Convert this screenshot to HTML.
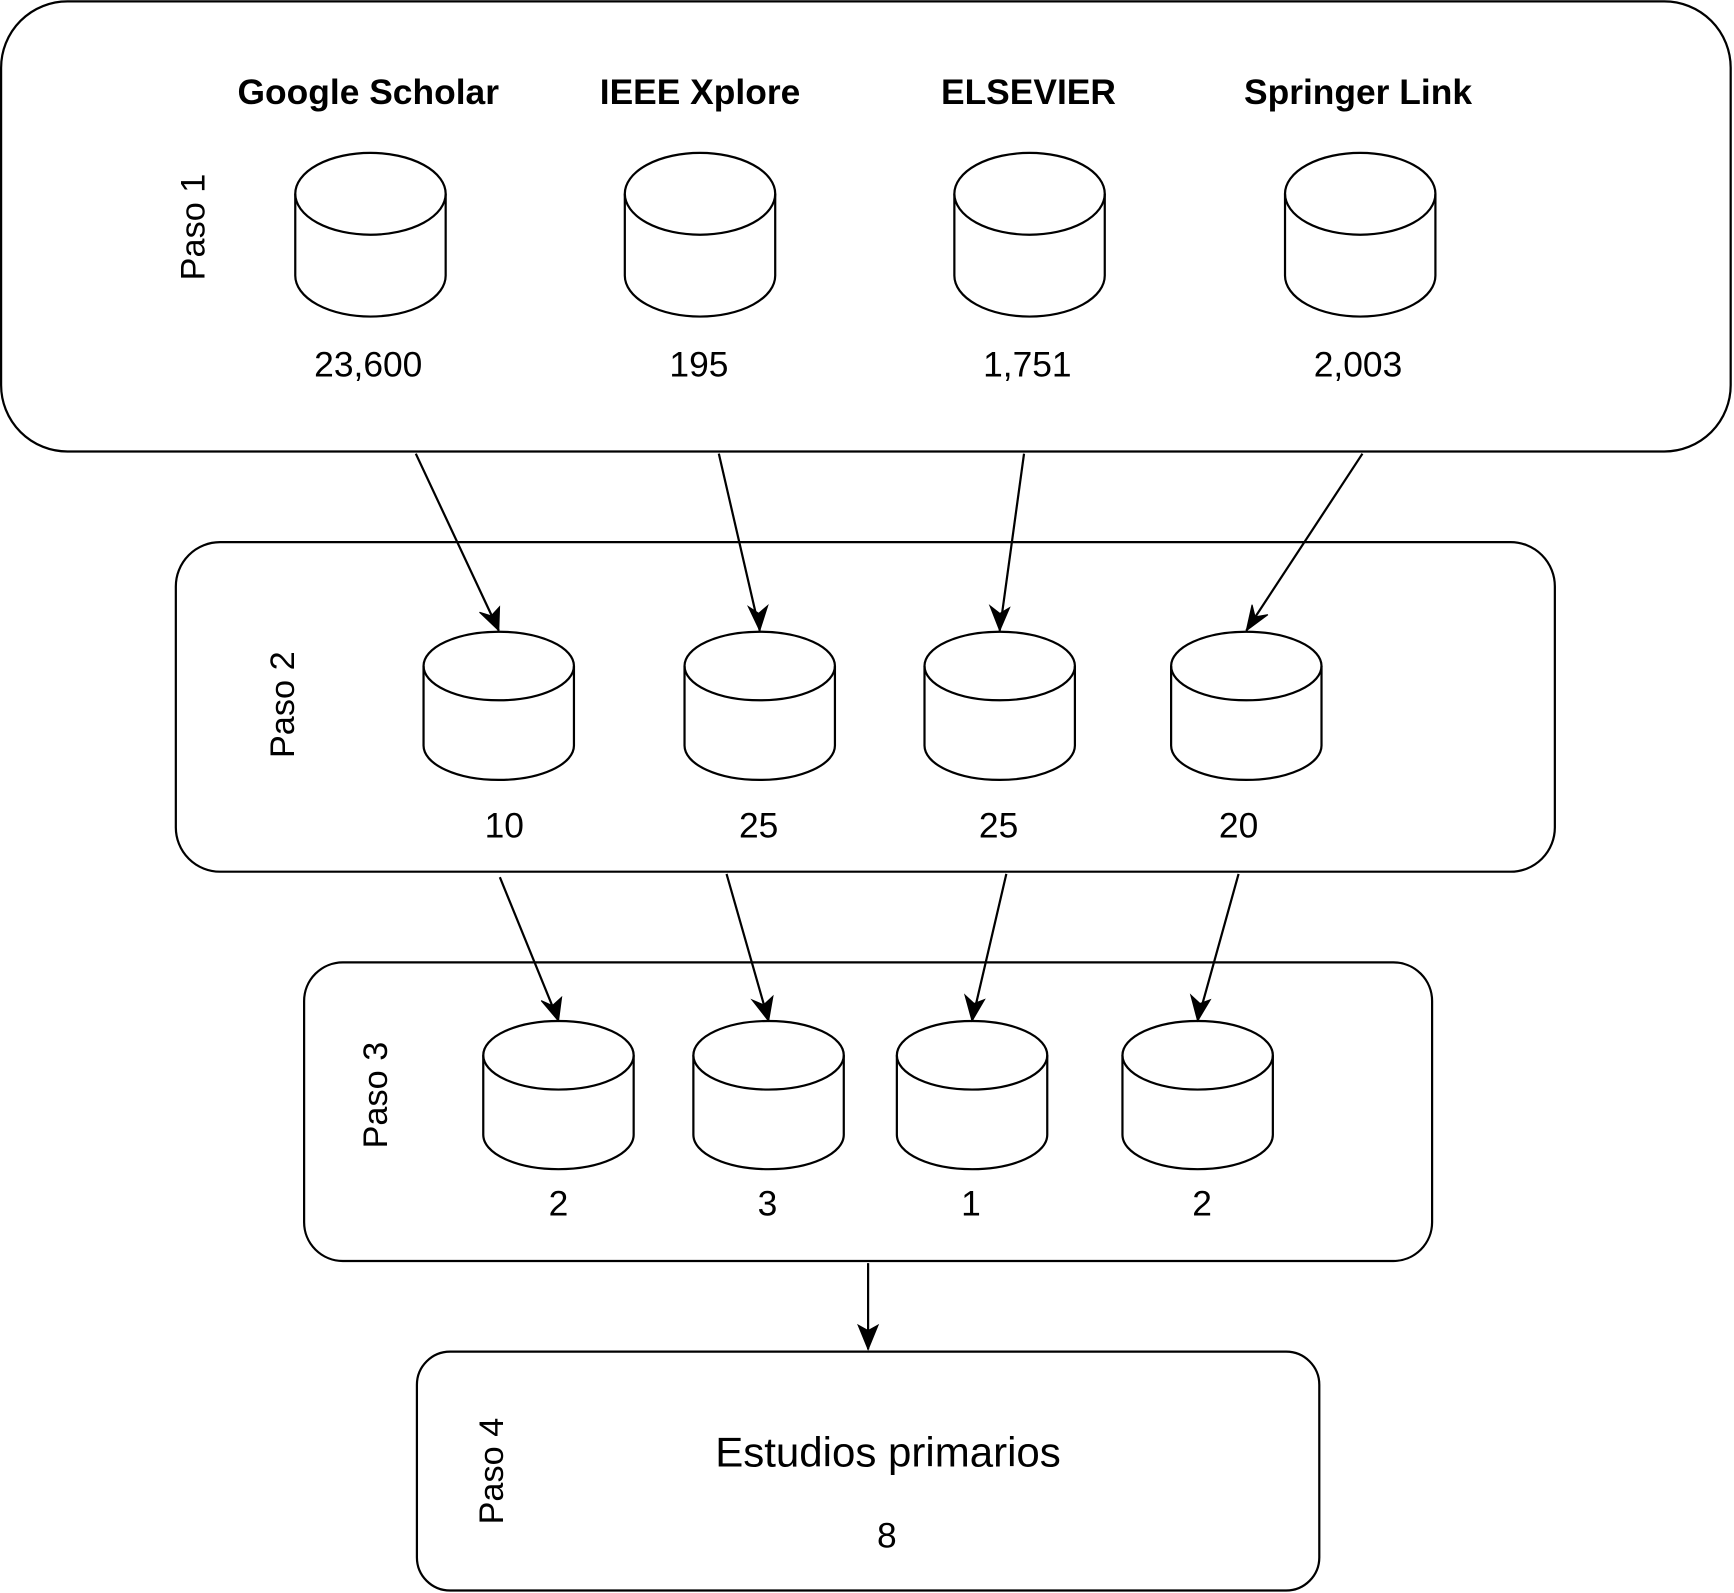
<!DOCTYPE html>
<html><head><meta charset="utf-8"><style>html,body{margin:0;padding:0;background:#fff}svg{display:block}</style></head>
<body>
<svg width="1734" height="1593" viewBox="0 0 1568 1440" xmlns="http://www.w3.org/2000/svg" font-family="Liberation Sans, Arial, sans-serif">
<defs>
<g id="cyl">
<path d="M-68,-37 A68,37 0 0 1 68,-37 L68,37 A68,37 0 0 1 -68,37 Z" fill="#fff" stroke="#000" stroke-width="2"/>
<path d="M-68,-37 A68,37 0 0 0 68,-37" fill="none" stroke="#000" stroke-width="2"/>
</g>
<g id="cyls">
<path d="M-68,-36 A68,31 0 0 1 68,-36 L68,36 A68,31 0 0 1 -68,36 Z" fill="#fff" stroke="#000" stroke-width="2"/>
<path d="M-68,-36 A68,31 0 0 0 68,-36" fill="none" stroke="#000" stroke-width="2"/>
</g>
</defs>
<g fill="none" stroke="#000" stroke-width="2">
<rect x="1" y="1" width="1564" height="407" rx="60"/>
<rect x="159" y="490" width="1247" height="298" rx="40"/>
<rect x="275" y="870" width="1020" height="270" rx="35"/>
<rect x="377" y="1222" width="816" height="216" rx="30"/>
</g>
<g font-size="32" font-weight="bold" text-anchor="middle">
<text x="333" y="94">Google Scholar</text>
<text x="633" y="94">IEEE Xplore</text>
<text x="930" y="94">ELSEVIER</text>
<text x="1228" y="94">Springer Link</text>
</g>
<use href="#cyl" x="335" y="212"/>
<use href="#cyl" x="633" y="212"/>
<use href="#cyl" x="931" y="212"/>
<use href="#cyl" x="1230" y="212"/>
<use href="#cyls" x="451" y="638"/>
<use href="#cyls" x="687" y="638"/>
<use href="#cyls" x="904" y="638"/>
<use href="#cyls" x="1127" y="638"/>
<use href="#cyls" x="505" y="990"/>
<use href="#cyls" x="695" y="990"/>
<use href="#cyls" x="879" y="990"/>
<use href="#cyls" x="1083" y="990"/>
<g font-size="32" text-anchor="middle">
<text x="333" y="340">23,600</text>
<text x="632" y="340">195</text>
<text x="929" y="340">1,751</text>
<text x="1228" y="340">2,003</text>
<text x="456" y="757">10</text>
<text x="686" y="757">25</text>
<text x="903" y="757">25</text>
<text x="1120" y="757">20</text>
<text x="505" y="1099">2</text>
<text x="694" y="1099">3</text>
<text x="878" y="1099">1</text>
<text x="1087" y="1099">2</text>
<text x="802" y="1399">8</text>
<text x="803" y="1326" font-size="38">Estudios primarios</text>
<text transform="translate(185,205) rotate(-90)" font-size="31">Paso 1</text>
<text transform="translate(266,637) rotate(-90)" font-size="31">Paso 2</text>
<text transform="translate(350,990) rotate(-90)" font-size="31">Paso 3</text>
<text transform="translate(455,1330) rotate(-90)" font-size="31">Paso 4</text>
</g>
<g stroke="#000" stroke-width="2" fill="#000">
<line x1="376" y1="410" x2="451" y2="570"/>
<line x1="650" y1="410" x2="687" y2="570"/>
<line x1="926" y1="410" x2="904" y2="570"/>
<line x1="1232" y1="410" x2="1127" y2="570"/>
<line x1="452" y1="793" x2="505" y2="923"/>
<line x1="657" y1="790" x2="695" y2="923"/>
<line x1="910" y1="790" x2="879" y2="923"/>
<line x1="1120" y1="790" x2="1083" y2="923"/>
<line x1="785" y1="1142" x2="785" y2="1220"/>
</g>
<g fill="#000" stroke="#000" stroke-width="1">
<polygon points="451,570 433.6,553.4 444.2,556.7 451.7,548.5"/>
<polygon points="687,570 676.7,548.3 686.0,554.4 694.2,547.4"/>
<polygon points="904,570 895.2,547.6 904.1,554.5 912.9,549.3"/>
<polygon points="1127,570 1132.2,546.6 1134.9,557.6 1146.5,555.6"/>
<polygon points="505,923 489.4,904.6 499.5,909.1 507.8,901.6"/>
<polygon points="695,923 680.1,904.0 690.5,908.4 698.9,900.6"/>
<polygon points="879,923 872.6,899.6 880.9,907.2 890.3,903.6"/>
<polygon points="1083,923 1076.8,899.6 1085.1,907.2 1094.4,903.8"/>
<polygon points="785,1220 776,1198 785,1203 794,1198"/>
</g>
</svg>
</body></html>
